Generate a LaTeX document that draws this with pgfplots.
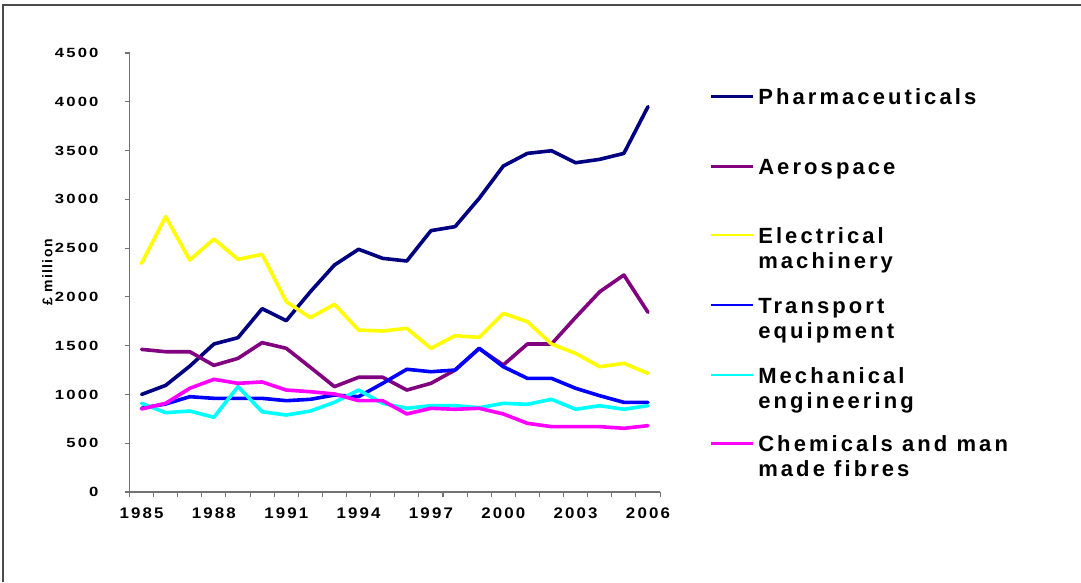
\documentclass[border=0pt]{standalone}
\usepackage{pgfplots}
\pgfplotsset{compat=1.18}
\usepackage{fontspec}
\setmainfont{Liberation Sans}
\newfontfamily\xtickfont[LetterSpace=14, FakeStretch=1.1]{Liberation Sans Bold}
\newfontfamily\ytickfont[LetterSpace=16, FakeStretch=1.25]{Liberation Sans Bold}
\newfontfamily\labfont[LetterSpace=10]{Liberation Sans Bold}
\newfontfamily\legfont[LetterSpace=14]{Liberation Sans}

\definecolor{pharma}{HTML}{000080}
\definecolor{aero}{HTML}{800080}
\definecolor{elec}{HTML}{FFFF00}
\definecolor{trans}{HTML}{0000FF}
\definecolor{mech}{HTML}{00FFFF}
\definecolor{chem}{HTML}{FF00FF}

% index 0 = 1985 ... 21 = 2006
\pgfplotstableread{
x pharma aero elec trans mech chem
0  1000 1462 2344  858  909  851
1  1093 1438 2822  902  813  909
2  1290 1438 2378  977  830 1063
3  1517 1298 2593  960  766 1155
4  1582 1370 2385  960 1080 1114
5  1879 1531 2436  960  823 1128
6  1756 1473 1951  936  789 1045
7  2053 1278 1787  950  830 1028
8  2327 1080 1924  994  919 1005
9  2488 1176 1660  977 1045  936
10 2395 1176 1650 1114  909  936
11 2368 1045 1678 1258  858  800
12 2679 1114 1473 1233  885  858
13 2720 1250 1602 1250  885  848
14 3010 1470 1585 1473  864  858
15 3341 1302 1831 1284  909  800
16 3471 1517 1746 1165  899  704
17 3498 1517 1517 1165  950  670
18 3375 1790 1421 1063  848  670
19 3410 2053 1284  987  885  670
20 3471 2224 1319  919  848  653
21 3950 1842 1216  919  885  680
}\datatable

\begin{document}
\begin{tikzpicture}
\useasboundingbox (0,0) rectangle (810.75pt,436.5pt);
\begin{axis}[
    at={(97.125pt,67.5pt)}, anchor=south west,
    scale only axis,
    width=397.9pt, height=329.25pt,
    xmin=-0.5, xmax=21.5,
    ymin=0, ymax=4500,
    axis lines=left,
    axis line style={gray!90!black, line width=0.9pt, -},
    tick style={gray!90!black, line width=0.8pt},
    tick align=outside,
    major tick length=3.75pt,
    xtick={-0.5,0.5,...,21.5},
    xticklabels={},
    extra x ticks={0,3,...,21},
    extra x tick labels={1985,1988,1991,1994,1997,2000,2003,2006},
    extra x tick style={major tick length=0pt},
    ytick={0,500,...,4500},
    /pgf/number format/1000 sep={},
    /pgf/number format/assume math mode=true,
    yticklabel style={font=\ytickfont\fontsize{10}{12}\selectfont, xshift=-16pt},
    xticklabel style={font=\xtickfont\fontsize{11.5}{13}\selectfont, yshift=-8.5pt},
    ylabel={\labfont\fontsize{10.5}{12}\selectfont \pounds\ million},
    ylabel style={at={(axis description cs:-0.155,0.5)}, anchor=center},
    every axis plot/.append style={line width=2.7pt, line join=round, line cap=round},
]
\addplot[pharma] table[x=x, y=pharma] {\datatable};
\addplot[aero]   table[x=x, y=aero]   {\datatable};
\addplot[elec]   table[x=x, y=elec]   {\datatable};
\addplot[trans]  table[x=x, y=trans]  {\datatable};
\addplot[mech]   table[x=x, y=mech]   {\datatable};
\addplot[chem]   table[x=x, y=chem]   {\datatable};
\end{axis}
% frame and legend, pixel coordinates (y down)
\begin{scope}[x=0.75pt, y=-0.75pt, shift={(0pt,436.5pt)}]
\draw[gray!60!black, line width=1pt] (3,582) -- (3,5) -- (1081,5);
\def\leg#1#2#3#4{%
  \draw[#1, line width=2pt] (711,#2) -- (753,#2);
  \node[anchor=base west, inner sep=0pt, font=\legfont\bfseries\fontsize{16.5}{18}\selectfont] at (758,#2+8.3) {#3};
  \node[anchor=base west, inner sep=0pt, font=\legfont\bfseries\fontsize{16.5}{18}\selectfont] at (758,#2+33.3) {#4};
}
\leg{pharma}{96.7}{Pharmaceuticals}{}
\leg{aero}{166.7}{Aerospace}{}
\leg{elec}{235}{Electrical}{machinery}
\leg{trans}{305}{Transport}{equipment}
\leg{mech}{375}{Mechanical}{engineering}
\leg{chem}{443.3}{Chemicals and man}{made fibres}
\end{scope}
\end{tikzpicture}
\end{document}
